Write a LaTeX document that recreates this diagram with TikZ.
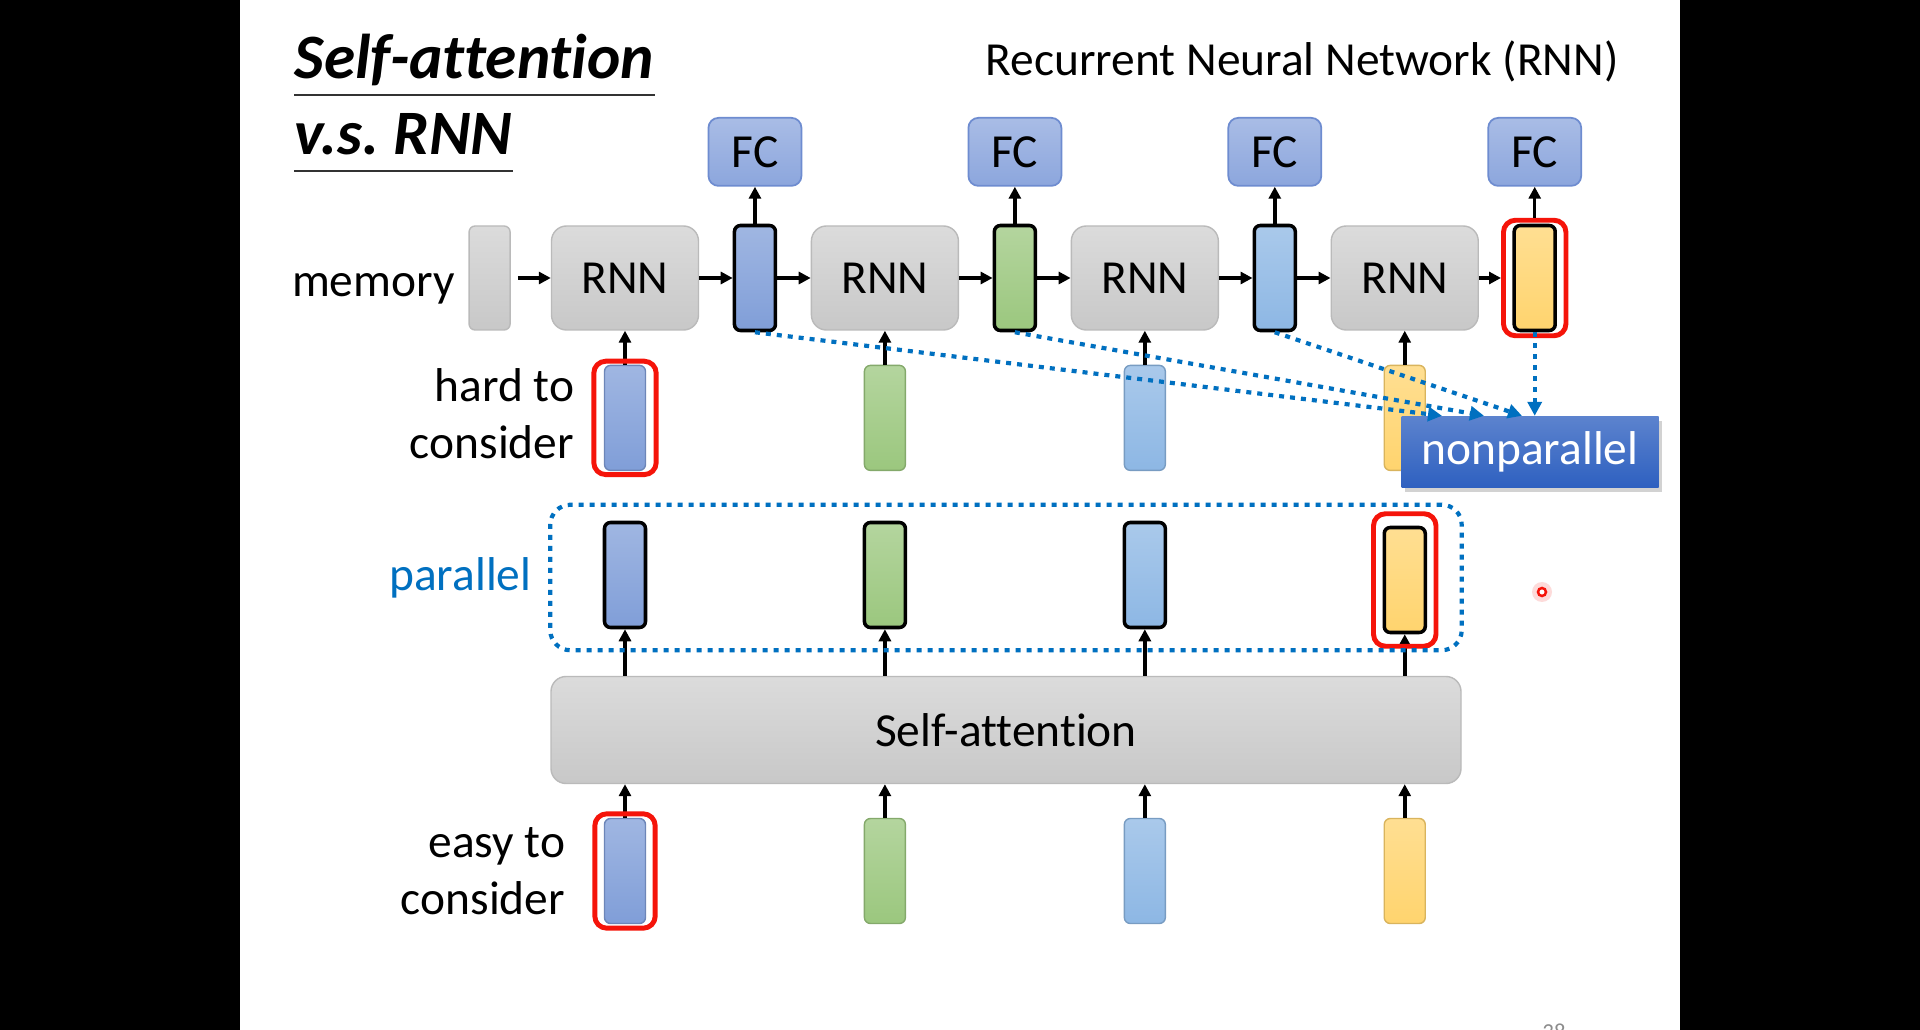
\documentclass[tikz,border=0pt]{standalone}
\usepackage{fontspec}
\setmainfont{Carlito}[Ligatures=NoCommon]
\usetikzlibrary{arrows.meta, positioning, calc, fit, shadows}
\definecolor{vblue}{RGB}{128,158,216}
\definecolor{vgreen}{RGB}{155,199,126}
\definecolor{vsky}{RGB}{141,183,228}
\definecolor{vyellow}{RGB}{255,212,110}
\definecolor{boxgray}{RGB}{200,200,200}
\definecolor{boxline}{RGB}{186,186,186}
\definecolor{fcfill}{RGB}{140,166,221}
\definecolor{fcline}{RGB}{110,140,208}
\definecolor{dotblue}{RGB}{0,112,192}
\definecolor{npfill}{RGB}{46,96,192}
\definecolor{hlred}{RGB}{245,20,10}

\begin{document}
\begin{tikzpicture}[
  x=0.1mm, y=-0.1mm,
  font=\fontsize{13.5}{16.2}\selectfont,
  grayb/.style={draw=boxline, line width=0.4pt, rounded corners=1.5mm,
                top color=boxgray!65!white, bottom color=boxgray},
  rnnbox/.style={grayb, minimum width=14.7mm, minimum height=10.4mm},
  vec/.style={rounded corners=0.6mm, minimum width=4.1mm, minimum height=10.5mm, inner sep=0pt},
  outvec/.style={vec, draw=black, line width=1pt, top color=#1!75!white, bottom color=#1},
  invec/.style={vec, draw=#1!85!black, line width=0.4pt, top color=#1!75!white, bottom color=#1},
  fcbox/.style={draw=fcline, line width=0.5pt, rounded corners=1mm, minimum width=9.3mm,
                minimum height=6.8mm, top color=fcfill!75!white, bottom color=fcfill},
  hl/.style={draw=hlred, line width=1.4pt, rounded corners=1.2mm, inner sep=0pt},
  flow/.style={-{Triangle[length=1.2mm, width=1.2mm]}, line width=1pt},
  dotarr/.style={-{Triangle[length=1.4mm, width=1.4mm]}, draw=dotblue, line width=0.42mm,
                 dash pattern=on 0.5mm off 0.6mm},
  pbox/.style={draw=dotblue, line width=0.42mm, dash pattern=on 0.5mm off 0.6mm,
               rounded corners=2mm, inner xsep=0pt, inner ysep=1.6mm},
  lbl/.style={inner sep=0pt, align=right},
  ttl/.style={anchor=base west, inner sep=0pt, font=\fontsize{18}{20}\selectfont\bfseries\itshape},
  uline/.style={draw=black!80, line width=0.2mm},
  node distance=3.35mm,
]
\useasboundingbox (0,0) rectangle (1920,1030);
\fill[black] (0,0) rectangle (1920,1030);
\fill[white] (240,0) rectangle (1680,1030);

\node[ttl] (t1) at (294,79) {Self-attention};
\node[ttl] (t2) at (294,155) {v.s.\ RNN};
\draw[uline] ($(t1.base west)+(0,16)$) -- ($(t1.base east)+(0,16)$);
\draw[uline] ($(t2.base west)+(0,16)$) -- ($(t2.base east)+(0,16)$);
\node[anchor=base, inner sep=0pt] (rnntitle) at (1302,76) {Recurrent Neural Network (RNN)};

\node[rnnbox] (r1) at (625,278) {RNN};
\node[grayb, minimum width=4.1mm, minimum height=10.4mm, rounded corners=0.6mm, left=4mm of r1] (mem) {};
\node[outvec=vblue, right=of r1] (v1) {};
\node[rnnbox, right=of v1] (r2) {RNN};
\node[outvec=vgreen, right=of r2] (v2) {};
\node[rnnbox, right=of v2] (r3) {RNN};
\node[outvec=vsky, right=of r3] (v3) {};
\node[rnnbox, right=of v3] (r4) {RNN};
\node[outvec=vyellow, right=of r4] (v4) {};
\node[hl, fit=(v4), inner xsep=0.9mm, inner ysep=0.35mm] (v4h) {};
\node[lbl, left=1.3mm of mem, yshift=-1.1mm] (memlbl) {memory};

\foreach \i in {1,...,4}
  \node[fcbox, above=3.7mm of v\i] (fc\i) {FC};

\draw[flow, shorten <=0.7mm] (mem) -- (r1);
\foreach \a/\b in {r1/v1, v1/r2, r2/v2, v2/r3, r3/v3, v3/r4, r4/v4h, v1/fc1, v2/fc2, v3/fc3, v4h/fc4}
  \draw[flow] (\a) -- (\b);

\foreach \i/\col in {1/vblue, 2/vgreen, 3/vsky, 4/vyellow} {
  \node[invec=\col, below=3.4mm of r\i] (i\i) {};
  \draw[flow] (i\i) -- (r\i);
}
\node[hl, fit=(i1), inner xsep=1.0mm, inner ysep=0.35mm] (i1h) {};
\node[lbl, left=2.9mm of i1, yshift=0.4mm] (hardlbl) {hard to\\consider};

\node[grayb, minimum width=91mm, minimum height=10.7mm] (sa) at (1006,730) {Self-attention};

\foreach \i/\col/\y in {1/vblue/575, 2/vgreen/575, 3/vsky/575, 4/vyellow/580} {
  \node[outvec=\col] (p\i) at (r\i |- 0,\y) {};
  \draw[flow] (sa.north -| p\i) -- (p\i);
}
\node[hl, fit=(p4), inner xsep=0.9mm, inner ysep=1.2mm] (p4h) {};
\node[pbox, fit={(sa.west |- p1.north) (sa.east |- p4.south)}] (pb) {};
\node[lbl, text=dotblue, left=1.6mm of pb] (parlbl) {parallel};

\foreach \i/\col in {1/vblue, 2/vgreen, 3/vsky, 4/vyellow} {
  \node[invec=\col] (b\i) at (r\i |- 0,871) {};
  \draw[flow] (b\i) -- (b\i |- sa.south);
}
\node[hl, fit=(b1), inner xsep=0.9mm, inner ysep=0.4mm] (b1h) {};
\node[lbl, left=3.8mm of b1] (easylbl) {easy to\\consider};

\node[minimum width=25.7mm, minimum height=7.1mm, inner sep=0pt, text=white,
      top color=npfill!78!white, bottom color=npfill,
      drop shadow={opacity=0.35, shadow xshift=0.3mm, shadow yshift=-0.5mm}] (np) at (1530,452) {nonparallel};
\foreach \s/\dx in {v1/-88, v2/-46, v3/-8}
  \draw[dotarr] (\s.south) -- ($(np.north)+(\dx,0)$);
\draw[dotarr] (v4.south) -- (v4.south |- np.north);

\fill[hlred, opacity=0.15] (1542,592) circle (1mm);
\node[circle, draw=hlred, line width=0.25mm, fill=white, inner sep=0pt, minimum size=0.8mm] (laser) at (1542,592) {};
\node[anchor=base, text=black!45, font=\fontsize{6.5}{7}\selectfont] (pgno) at (1554,1039) {38};
\end{tikzpicture}
\end{document}
